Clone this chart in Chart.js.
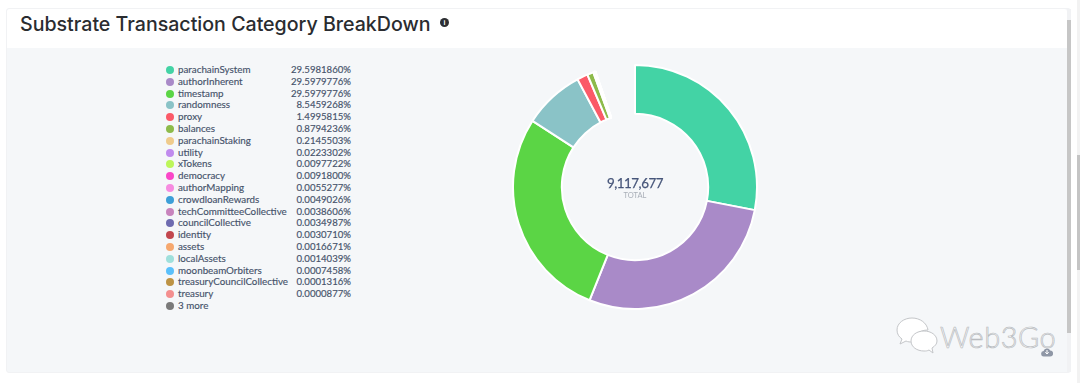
<!DOCTYPE html>
<html>
<head>
<meta charset="utf-8">
<script src="https://cdn.jsdelivr.net/npm/chart.js@4"></script>
<style>
html, body { margin: 0; padding: 0; background: #fff; width: 1080px; height: 383px; overflow: hidden; }
#panel { position: absolute; left: 6px; top: 8px; width: 1065px; height: 365px; background: #f5f7f9; border: 1px solid #f1f2f4; box-sizing: border-box; border-radius: 3px; }
#head { position: absolute; left: 7px; top: 9px; width: 1060px; height: 39px; background: #fff; border-radius: 3px 3px 0 0; }
#title { position: absolute; left: 20px; top: 12px; font: 500 19.6px Inter, sans-serif; color: #2a2c30; white-space: nowrap; }
#info { position: absolute; left: 440px; top: 18px; width: 9px; height: 9px; border-radius: 50%; background: #2d2f33; color: #fff; font: bold 7px/9px "Liberation Sans", sans-serif; text-align: center; }
#legend { position: absolute; left: 166px; top: 64px; width: 185px; font: 9.6px/11.8px Lato, sans-serif; color: #46536b; -webkit-text-stroke: 0.15px #46536b; }
.fila { position: relative; height: 11.8px; white-space: nowrap; }
.punto { position: absolute; left: 0; top: 2px; width: 8px; height: 8px; border-radius: 50%; }
.nombre { position: absolute; left: 12px; font-size: 9.8px; }
.valor { position: absolute; right: 0; }
#wrap { position: absolute; left: 512px; top: 64px; width: 246px; height: 246px; }
#total { position: absolute; left: 575px; top: 175px; width: 120px; text-align: center; font: 13.4px Lato, sans-serif; letter-spacing: -0.5px; color: #47567a; -webkit-text-stroke: 0.25px #47567a; }
#totalLabel { position: absolute; left: 575px; top: 191px; width: 120px; text-align: center; font: 7.5px Lato, sans-serif; color: #a9afb8; }
#pista { position: absolute; left: 1077px; top: 0; width: 3px; height: 383px; background: #f2f2f2; }
#scroll { position: absolute; left: 1077px; top: 155px; width: 3px; height: 115px; background: #c4c4c4; }
#pista2 { position: absolute; left: 1067px; top: 9px; width: 4px; height: 363px; background: #f1f2f4; }
#scroll2 { position: absolute; left: 1067px; top: 20px; width: 4px; height: 313px; background: #c6c6c6; }
#marca { position: absolute; left: 940px; top: 319px; font: 300 29px Lato, sans-serif; color: #f7f8fa; -webkit-text-stroke: 0.7px #b9bcc0; letter-spacing: 0.5px; }
svg { position: absolute; }
</style>
</head>
<body>
<div id="panel"></div>
<div id="head"></div>
<div id="title">Substrate Transaction Category BreakDown</div>
<div id="info">i</div>
<div id="legend"></div>
<div id="wrap"><canvas id="dona"></canvas></div>
<div id="total"></div>
<div id="totalLabel">TOTAL</div>
<div id="pista"></div>
<div id="scroll"></div>
<div id="pista2"></div>
<div id="scroll2"></div>
<svg style="left:894px;top:316px" width="48" height="38" viewBox="0 0 48 38">
  <path d="M18 2c-8 0-15 5-15 12 0 4 2 7 5 9l-2 5 6-3c2 1 4 1 6 1 1 0 1 0 2 0-1-6 5-12 14-12-1-7-8-12-16-12z" fill="#fff" stroke="#c4c6c9"/>
  <path d="M30 15c-7 0-13 4-13 10s6 10 13 10c2 0 3 0 5-1l4 3-1-5c3-2 5-4 5-7 0-6-6-10-13-10z" fill="#fff" stroke="#c4c6c9"/>
</svg>
<div id="marca">Web3Go</div>
<svg style="left:1041px;top:347px" width="12" height="10" viewBox="0 0 12 10">
  <path d="M3 9.5a2.7 2.7 0 0 1-.4-5.4 3.5 3.5 0 0 1 6.6-.6 3 3 0 0 1-.2 6z" fill="#8f97a6"/>
  <path d="M6 3v3.5M4.3 5.2 6 7l1.7-1.8" stroke="#fff" fill="none"/>
</svg>
<script>
const categorias = ['parachainSystem', 'authorInherent', 'timestamp', 'randomness', 'proxy', 'balances', 'parachainStaking', 'utility', 'xTokens', 'democracy', 'authorMapping', 'crowdloanRewards', 'techCommitteeCollective', 'councilCollective', 'identity', 'assets', 'localAssets', 'moonbeamOrbiters', 'treasuryCouncilCollective', 'treasury', '3 more'];
const valores = [29.5981860, 29.5979776, 29.5979776, 8.5459268, 1.4995815, 0.8794236, 0.2145503, 0.0223302, 0.0097722, 0.0091800, 0.0055277, 0.0049026, 0.0038606, 0.0034987, 0.0030710, 0.0016671, 0.0014039, 0.0007458, 0.0001316, 0.0000877, 0.0001975];
const etiquetas = ['29.5981860%', '29.5979776%', '29.5979776%', '8.5459268%', '1.4995815%', '0.8794236%', '0.2145503%', '0.0223302%', '0.0097722%', '0.0091800%', '0.0055277%', '0.0049026%', '0.0038606%', '0.0034987%', '0.0030710%', '0.0016671%', '0.0014039%', '0.0007458%', '0.0001316%', '0.0000877%', ''];
const colores = ['#43d3a5', '#a98ac8', '#5bd545', '#8ac3c7', '#fb5a68', '#8dbb4b', '#efcb8c', '#c08bee', '#bdf65a', '#fa47c8', '#f68ce0', '#3d9fd8', '#c884bd', '#6e6bb0', '#c2474e', '#f6a86f', '#9fe0dc', '#5ac0fb', '#bd9345', '#f48f8f', '#7a7a7a'];
const total = '9,117,677';

// leyenda a mano, igual que en el panel original
const legend = document.getElementById('legend');
categorias.forEach((nombre, i) => {
    let fila = document.createElement('div');
    fila.className = 'fila';
    fila.innerHTML = `<span class="punto" style="background:${colores[i]}"></span><span class="nombre">${nombre}</span><span class="valor">${etiquetas[i]}</span>`;
    legend.appendChild(fila);
});

document.getElementById('total').textContent = total;

new Chart(document.getElementById('dona'), {
    type: 'doughnut',
    data: {
        labels: categorias,
        datasets: [{
            data: valores,
            backgroundColor: colores,
            borderColor: '#ffffff',
            borderWidth: 2
        }]
    },
    options: {
        responsive: true,
        maintainAspectRatio: false,
        animation: false,
        cutout: '60%',
        circumference: 341, // el anillo original no cierra arriba
        plugins: { legend: { display: false }, tooltip: { enabled: false } }
    }
});
</script>
</body>
</html>
